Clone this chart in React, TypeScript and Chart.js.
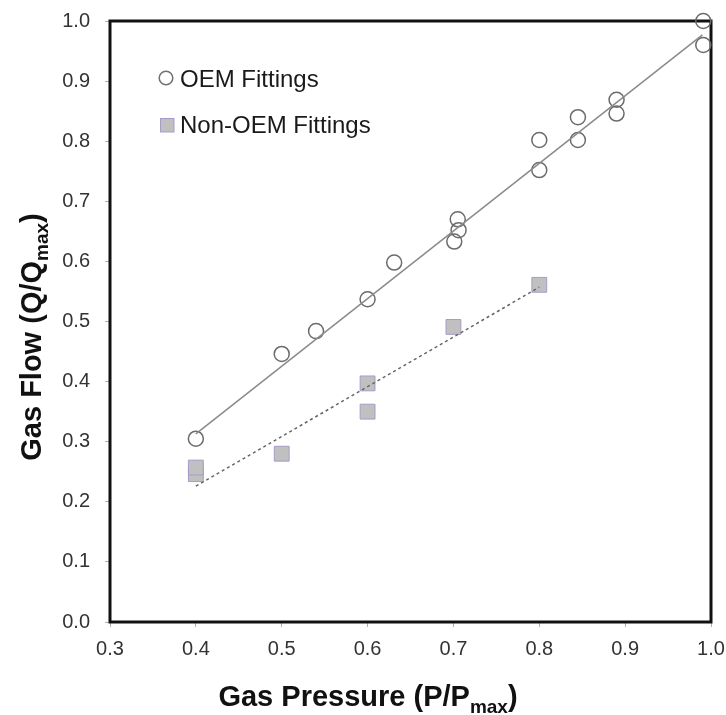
import React, { useEffect, useRef } from "react";
import { Chart, registerables } from "chart.js";

Chart.register(...registerables);

// OEM fittings (circles)
const oemX = [0.4, 0.5, 0.54, 0.6, 0.631, 0.701, 0.706, 0.705, 0.8, 0.8, 0.845, 0.845, 0.89, 0.89, 0.991, 0.991];
const oemY = [0.305, 0.446, 0.484, 0.537, 0.598, 0.633, 0.652, 0.670, 0.752, 0.802, 0.802, 0.840, 0.846, 0.869, 0.960, 1.0];

// Non-OEM fittings (squares)
const nonOemX = [0.4, 0.4, 0.5, 0.6, 0.6, 0.7, 0.8];
const nonOemY = [0.246, 0.257, 0.280, 0.350, 0.397, 0.491, 0.561];

// Trend lines (end points)
const oemFitX = [0.4, 0.99];
const oemFitY = [0.313, 0.977];
const nonOemFitX = [0.4, 0.8];
const nonOemFitY = [0.226, 0.557];

// Axis ticks
const xMin = 0.3, xMax = 1.0, yMin = 0.0, yMax = 1.0, tickStep = 0.1;

const legendLabels = ["OEM Fittings", "Non-OEM Fittings"];
const xTitleMain = "Gas Pressure (P/P";
const yTitleMain = "Gas Flow (Q/Q";
const titleSub = "max";
const titleEnd = ")";

const FONT = "'Liberation Sans', Arial, sans-serif";

const pts = (xs: number[], ys: number[]) => xs.map((x, i) => ({ x, y: ys[i] }));

const boxPlugin = {
  id: "boxPlugin",
  beforeDatasetsDraw(chart: any) {
    const { ctx, chartArea: a } = chart;
    ctx.save();
    ctx.strokeStyle = "#111";
    ctx.lineWidth = 3;
    ctx.strokeRect(a.left, a.top, a.right - a.left, a.bottom - a.top);
    ctx.restore();
  },
};

function drawSubTitle(ctx: CanvasRenderingContext2D, main: string, x0: number, y0: number) {
  ctx.font = `bold 29px ${FONT}`;
  const w1 = ctx.measureText(main).width;
  ctx.font = `bold 19px ${FONT}`;
  const w2 = ctx.measureText(titleSub).width;
  ctx.font = `bold 29px ${FONT}`;
  const w3 = ctx.measureText(titleEnd).width;
  const total = w1 + w2 + w3;
  let x = x0 - total / 2;
  ctx.textAlign = "left";
  ctx.textBaseline = "alphabetic";
  ctx.fillStyle = "#111";
  ctx.font = `bold 29px ${FONT}`;
  ctx.fillText(main, x, y0);
  x += w1;
  ctx.font = `bold 19px ${FONT}`;
  ctx.fillText(titleSub, x, y0 + 7);
  x += w2;
  ctx.font = `bold 29px ${FONT}`;
  ctx.fillText(titleEnd, x, y0);
}

const titlePlugin = {
  id: "titlePlugin",
  afterDraw(chart: any) {
    const { ctx } = chart;
    ctx.save();
    drawSubTitle(ctx, xTitleMain, 368, 706);
    ctx.restore();
    ctx.save();
    ctx.translate(41, 337);
    ctx.rotate(-Math.PI / 2);
    drawSubTitle(ctx, yTitleMain, 0, 0);
    ctx.restore();
  },
};

const legendPlugin = {
  id: "legendPlugin",
  afterDraw(chart: any) {
    const { ctx } = chart;
    ctx.save();
    ctx.beginPath();
    ctx.arc(166, 78, 6.8, 0, Math.PI * 2);
    ctx.strokeStyle = "#707070";
    ctx.lineWidth = 1.5;
    ctx.stroke();
    ctx.fillStyle = "#c0c0c0";
    ctx.fillRect(160.5, 118.5, 13.5, 13.5);
    ctx.strokeStyle = "#a99bc9";
    ctx.lineWidth = 1;
    ctx.strokeRect(160.5, 118.5, 13.5, 13.5);
    ctx.fillStyle = "#1a1a1a";
    ctx.font = `24px ${FONT}`;
    ctx.textAlign = "left";
    ctx.textBaseline = "alphabetic";
    ctx.fillText(legendLabels[0], 180, 87);
    ctx.fillText(legendLabels[1], 180, 133);
    ctx.restore();
  },
};

const zeroPad = (s: any) => {
  s.paddingTop = 0;
  s.paddingBottom = 0;
  s.paddingLeft = 0;
  s.paddingRight = 0;
};

export default function App() {
  const ref = useRef<HTMLCanvasElement | null>(null);
  useEffect(() => {
    if (!ref.current) return;
    const chart = new Chart(ref.current, {
      type: "scatter",
      data: {
        datasets: [
          {
            label: "OEM fit",
            data: pts(oemFitX, oemFitY),
            showLine: true,
            pointRadius: 0,
            borderColor: "#8a8a8a",
            borderWidth: 1.5,
            fill: false,
          },
          {
            label: "Non-OEM fit",
            data: pts(nonOemFitX, nonOemFitY),
            showLine: true,
            pointRadius: 0,
            borderColor: "#666",
            borderWidth: 1.5,
            borderDash: [3, 3],
            fill: false,
          },
          {
            label: legendLabels[0],
            data: pts(oemX, oemY),
            pointStyle: "circle",
            pointRadius: 7.5,
            pointBorderColor: "#6b6b6b",
            pointBackgroundColor: "rgba(0,0,0,0)",
            pointBorderWidth: 1.5,
            clip: false,
          },
          {
            label: legendLabels[1],
            data: pts(nonOemX, nonOemY),
            pointStyle: "rect",
            pointRadius: 10.5,
            pointBorderColor: "#a99bc9",
            pointBackgroundColor: "#c0c0c0",
            pointBorderWidth: 1,
            clip: false,
          },
        ],
      },
      options: {
        responsive: false,
        animation: false,
        devicePixelRatio: 1,
        layout: { padding: { left: 0, top: 21, right: 15, bottom: 0 } },
        plugins: { legend: { display: false }, tooltip: { enabled: false } },
        scales: {
          x: {
            type: "linear",
            min: xMin,
            max: xMax,
            afterFit: (s: any) => { s.height = 93; zeroPad(s); },
            ticks: {
              stepSize: tickStep,
              padding: 10,
              color: "#333",
              font: { family: FONT, size: 20 },
              callback: (v: any) => Number(v).toFixed(1),
            },
            grid: { drawOnChartArea: false, drawTicks: true, tickLength: 5, color: "#b0b0b0" },
            border: { display: false },
          },
          y: {
            type: "linear",
            min: yMin,
            max: yMax,
            afterFit: (s: any) => { s.width = 110; zeroPad(s); },
            ticks: {
              stepSize: tickStep,
              padding: 15,
              color: "#333",
              font: { family: FONT, size: 20 },
              callback: (v: any) => Number(v).toFixed(1),
            },
            grid: { drawOnChartArea: false, drawTicks: true, tickLength: 5, color: "#b0b0b0" },
            border: { display: false },
          },
        },
      },
      plugins: [boxPlugin, titlePlugin, legendPlugin],
    });
    return () => chart.destroy();
  }, []);
  return (
    <div style={{ position: "fixed", left: 0, top: 0, width: 726, height: 715, background: "#fff" }}>
      <canvas ref={ref} width={726} height={715} style={{ width: 726, height: 715, display: "block" }} />
    </div>
  );
}
